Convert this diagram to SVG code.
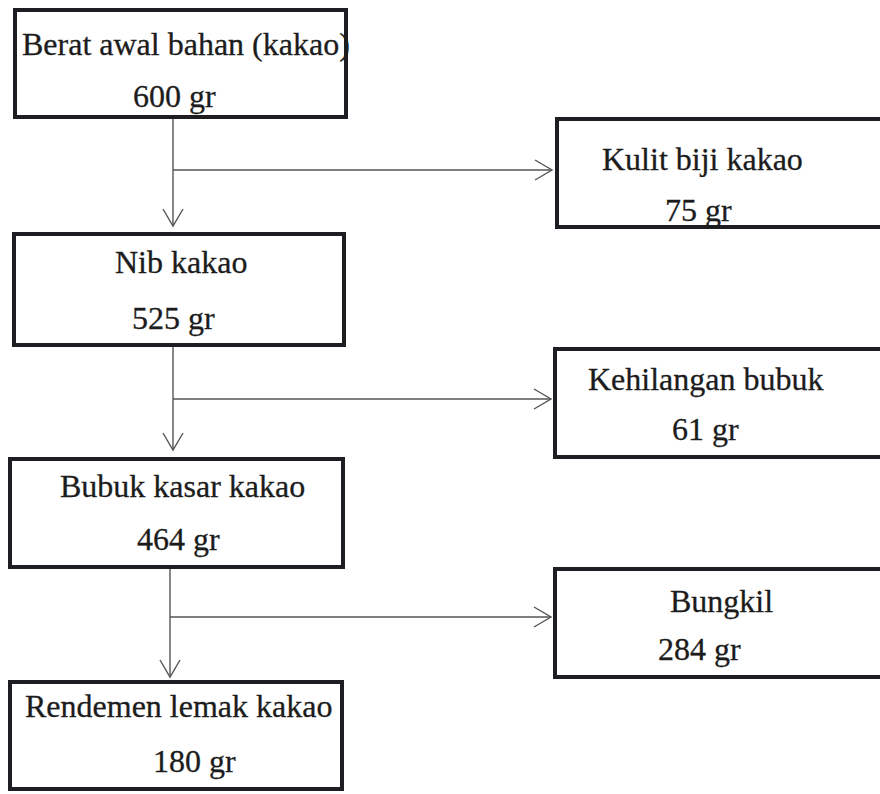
<svg xmlns="http://www.w3.org/2000/svg" width="880" height="794" viewBox="0 0 880 794">
<style>
.box{fill:#fff;stroke:#1e1e22;stroke-width:4}
.t{font-family:"Liberation Serif","Times New Roman",serif;font-size:32px;fill:#1c1c1c;stroke:#1c1c1c;stroke-width:0.3}
.c{fill:none;stroke:#555;stroke-width:1.4}
</style>
<defs>
<marker id="ah" markerUnits="userSpaceOnUse" viewBox="-19 -12 21 24" refX="0" refY="0" markerWidth="21" markerHeight="24" orient="auto">
<path d="M-17,-10 L0,0 L-17,10" fill="none" stroke="#555" stroke-width="1.4"/>
</marker>
</defs>
<rect width="880" height="794" fill="#fff"/>
<g id="connectors">
<line class="c" x1="173" y1="117" x2="173" y2="226" marker-end="url(#ah)"/>
<line class="c" x1="173" y1="170" x2="552" y2="170" marker-end="url(#ah)"/>
<line class="c" x1="173" y1="345" x2="173" y2="450" marker-end="url(#ah)"/>
<line class="c" x1="173" y1="399" x2="551" y2="399" marker-end="url(#ah)"/>
<line class="c" x1="170" y1="567" x2="170" y2="677" marker-end="url(#ah)"/>
<line class="c" x1="170" y1="617" x2="551" y2="617" marker-end="url(#ah)"/>
</g>
<g id="n1">
<rect class="box" x="15" y="10" width="331" height="107"/>
<text class="t" x="22" y="55">Berat awal bahan (kakao)</text>
<text class="t" x="133" y="107">600 gr</text>
</g>
<g id="n2">
<rect class="box" x="557" y="119" width="327" height="108"/>
<text class="t" x="602" y="170">Kulit biji kakao</text>
<text class="t" x="665" y="221">75 gr</text>
</g>
<g id="n3">
<rect class="box" x="14" y="234" width="330" height="111"/>
<text class="t" x="115" y="273">Nib kakao</text>
<text class="t" x="132" y="329">525 gr</text>
</g>
<g id="n4">
<rect class="box" x="555" y="349" width="329" height="108"/>
<text class="t" x="588" y="390">Kehilangan bubuk</text>
<text class="t" x="672" y="440">61 gr</text>
</g>
<g id="n5">
<rect class="box" x="10" y="459" width="333" height="108"/>
<text class="t" x="60" y="497">Bubuk kasar kakao</text>
<text class="t" x="137" y="550">464 gr</text>
</g>
<g id="n6">
<rect class="box" x="10" y="682" width="332" height="107"/>
<text class="t" x="25" y="717">Rendemen lemak kakao</text>
<text class="t" x="153" y="772">180 gr</text>
</g>
<g id="n7">
<rect class="box" x="555" y="569" width="329" height="108"/>
<text class="t" x="670" y="612">Bungkil</text>
<text class="t" x="658" y="660">284 gr</text>
</g>
</svg>
